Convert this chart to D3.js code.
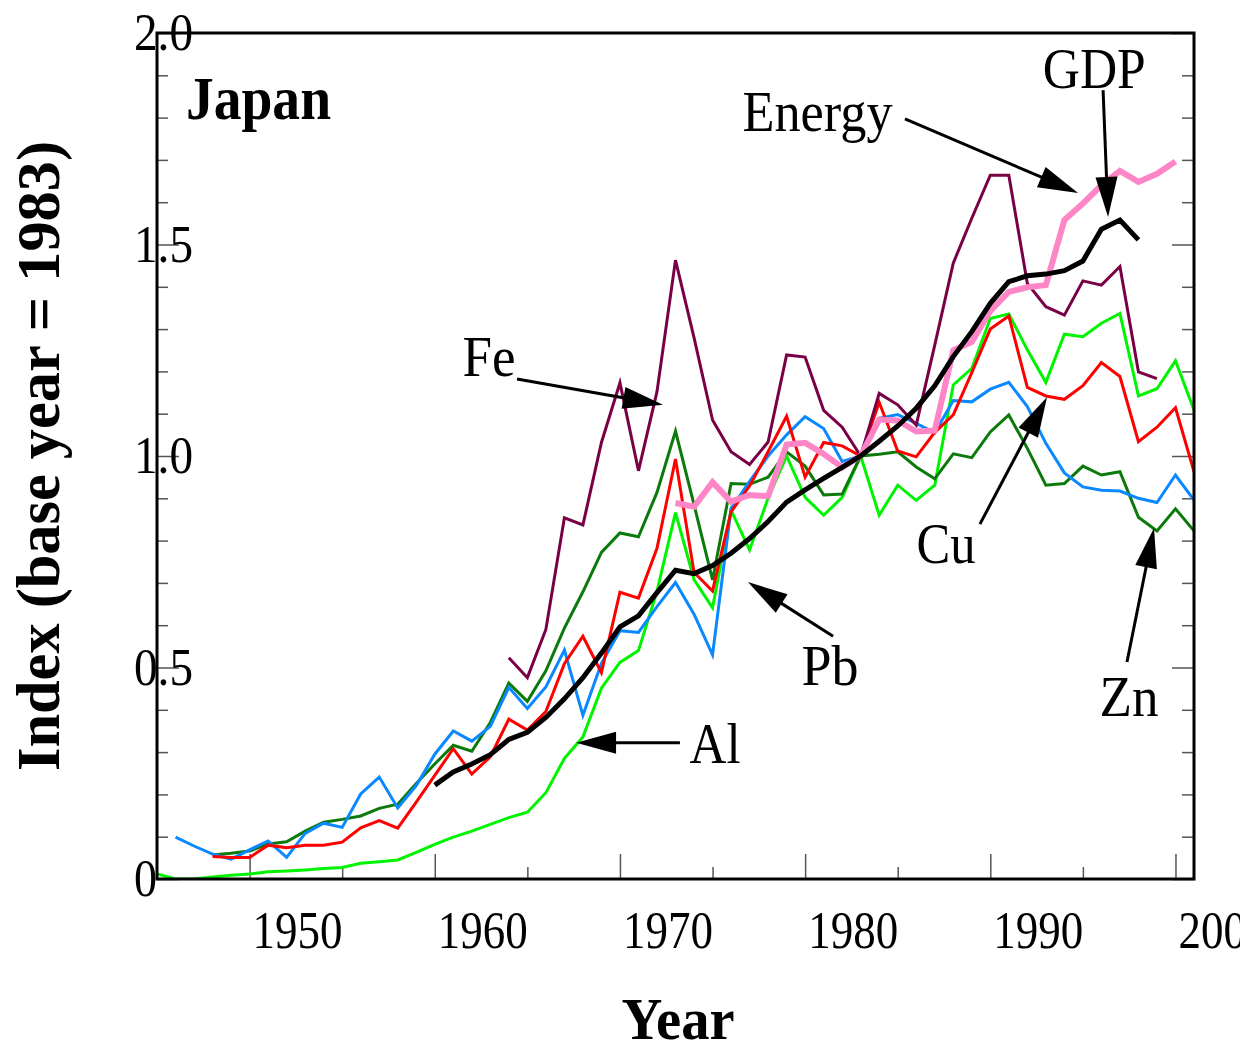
<!DOCTYPE html>
<html>
<head>
<meta charset="utf-8">
<script src="https://cdn.jsdelivr.net/npm/d3@7"></script>
<style>
  html, body { margin: 0; padding: 0; background: #fff; overflow: hidden; }
  text { font-family: "Liberation Serif", "Times New Roman", serif; fill: #000; }
</style>
</head>
<body>
<svg id="chart" width="1240" height="1044"></svg>
<script>
// ---- Data: consumption / output indices for Japan, base year 1983 = 1.0 ----
const xDomain = [1945, 2001];
const yDomain = [0, 2];

const xMajorTicks = [1950, 1960, 1970, 1980, 1990, 2000];
const xMinorTicks = [1955, 1965, 1975, 1985, 1995];
const xTickLabels = ["1950", "1960", "1970", "1980", "1990", "2000"];
const yTickValues = [0, 0.5, 1.0, 1.5, 2.0];
const yTickLabels = ["0", "0.5", "1.0", "1.5", "2.0"];

// Aluminium
const alStart = 1945;
const alValues = [0.012, 0.000, 0.000, 0.005, 0.009, 0.012, 0.017, 0.019, 0.021, 0.025,
  0.027, 0.037, 0.041, 0.045, 0.063, 0.082, 0.099, 0.113, 0.129, 0.145,
  0.158, 0.204, 0.285, 0.336, 0.451, 0.512, 0.540, 0.680, 0.866, 0.708,
  0.641, 0.872, 0.778, 0.900, 1.000, 0.902, 0.860, 0.902, 1.000, 0.860,
  0.931, 0.895, 0.931, 1.168, 1.207, 1.325, 1.336, 1.251, 1.174, 1.288,
  1.282, 1.314, 1.337, 1.142, 1.159, 1.225, 1.109];

// Zinc
const znStart = 1948;
const znValues = [0.057, 0.061, 0.066, 0.083, 0.088, 0.113, 0.134, 0.141, 0.149, 0.167,
  0.177, 0.226, 0.272, 0.316, 0.302, 0.370, 0.463, 0.420, 0.492, 0.593,
  0.679, 0.772, 0.818, 0.809, 0.914, 1.059, 0.885, 0.707, 0.935, 0.933,
  0.950, 1.010, 0.976, 0.908, 0.910, 1.000, 1.004, 1.010, 0.974, 0.946,
  1.005, 0.996, 1.057, 1.097, 1.018, 0.931, 0.935, 0.976, 0.955, 0.963,
  0.855, 0.823, 0.875, 0.823];

// Lead
const pbStart = 1946;
const pbValues = [0.099, 0.078, 0.059, 0.047, 0.069, 0.090, 0.051, 0.108, 0.132, 0.122,
  0.201, 0.241, 0.168, 0.221, 0.295, 0.350, 0.326, 0.361, 0.453, 0.403,
  0.454, 0.541, 0.387, 0.510, 0.587, 0.583, 0.644, 0.701, 0.626, 0.530,
  0.875, 0.940, 1.000, 1.050, 1.093, 1.065, 0.987, 1.000, 1.089, 1.098,
  1.077, 1.055, 1.131, 1.128, 1.158, 1.174, 1.117, 1.030, 0.960, 0.927,
  0.919, 0.917, 0.900, 0.890, 0.955, 0.896];

// Copper
const cuStart = 1948;
const cuValues = [0.053, 0.051, 0.051, 0.080, 0.074, 0.080, 0.080, 0.087, 0.121, 0.138,
  0.120, 0.182, 0.245, 0.308, 0.248, 0.289, 0.378, 0.352, 0.396, 0.509,
  0.574, 0.488, 0.678, 0.664, 0.782, 0.993, 0.725, 0.681, 0.868, 0.929,
  1.010, 1.094, 0.950, 1.032, 1.024, 1.000, 1.127, 1.012, 0.998, 1.056,
  1.097, 1.197, 1.300, 1.331, 1.162, 1.142, 1.134, 1.166, 1.221, 1.188,
  1.034, 1.068, 1.114, 0.963];

// Iron
const feStart = 1964;
const feValues = [0.523, 0.476, 0.590, 0.854, 0.837, 1.032, 1.173, 0.965, 1.152, 1.463,
  1.280, 1.085, 1.010, 0.980, 1.033, 1.239, 1.234, 1.108, 1.068, 1.000,
  1.148, 1.121, 1.073, 1.262, 1.456, 1.562, 1.664, 1.664, 1.408, 1.353,
  1.333, 1.414, 1.404, 1.448, 1.199, 1.183];

// Primary energy
const energyStart = 1973;
const energyValues = [0.889, 0.880, 0.938, 0.892, 0.908, 0.905, 1.027, 1.031, 1.005, 0.973,
  1.000, 1.086, 1.084, 1.058, 1.060, 1.250, 1.270, 1.343, 1.388, 1.399,
  1.404, 1.558, 1.597, 1.640, 1.674, 1.648, 1.667, 1.696];

// Gross domestic product
const gdpStart = 1960;
const gdpValues = [0.222, 0.253, 0.272, 0.294, 0.330, 0.347, 0.382, 0.426, 0.476, 0.534,
  0.596, 0.622, 0.677, 0.730, 0.722, 0.741, 0.770, 0.805, 0.845, 0.891,
  0.920, 0.947, 0.973, 1.000, 1.035, 1.071, 1.113, 1.166, 1.235, 1.294,
  1.361, 1.412, 1.426, 1.430, 1.438, 1.461, 1.536, 1.558, 1.511];

// Series labels with arrows: [text, label year, label value, arrow from (year, value), arrow tip (year, value)]
const annotationNames = ["Energy", "GDP", "Fe", "Cu", "Pb", "Al", "Zn"];
const annotationLabelAt = [[1976.62, 1.768], [1992.83, 1.870], [1961.50, 1.189], [1986.02, 0.747],
  [1979.81, 0.459], [1973.76, 0.274], [1995.90, 0.385]];
const annotationArrowFrom = [[1985.39, 1.797], [1996.09, 1.865], [1964.44, 1.182], [1989.44, 0.839],
  [1981.51, 0.574], [1973.24, 0.322], [1997.38, 0.513]];
const annotationArrowTip = [[1994.74, 1.622], [1996.36, 1.565], [1972.32, 1.121], [1993.06, 1.139],
  [1976.91, 0.702], [1967.63, 0.322], [1998.84, 0.830]];
const annotationWidths = [150, 103, 53, 59, 57, 51, 59];

// ---- Drawing ----
const svg = d3.select("#chart");
const plot = { left: 157, right: 1194, top: 33, bottom: 879 };

const x = d3.scaleLinear().domain(xDomain).range([plot.left, plot.right]);
const y = d3.scaleLinear().domain(yDomain).range([plot.bottom, plot.top]);

svg.append("defs").append("clipPath").attr("id", "plot-clip")
  .append("rect")
  .attr("x", plot.left).attr("y", plot.top)
  .attr("width", plot.right - plot.left).attr("height", plot.bottom - plot.top);

function toPoints(start, values) {
  return values.map((v, i) => ({ year: start + i, value: v }));
}

const series = [
  { name: "Al", points: toPoints(alStart, alValues), color: "#00f400", width: 3 },
  { name: "Zn", points: toPoints(znStart, znValues), color: "#0b7a0b", width: 3 },
  { name: "Pb", points: toPoints(pbStart, pbValues), color: "#0a88ff", width: 3 },
  { name: "Cu", points: toPoints(cuStart, cuValues), color: "#ff0000", width: 3 },
  { name: "Fe", points: toPoints(feStart, feValues), color: "#7a0046", width: 3 },
  { name: "Energy", points: toPoints(energyStart, energyValues), color: "#ff86c6", width: 6 },
  { name: "GDP", points: toPoints(gdpStart, gdpValues), color: "#000000", width: 5 }
];

// tick marks (drawn inside the frame)
const tickColor = "#555";
function styleAxis(g) {
  g.select(".domain").remove();
  g.selectAll(".tick line").attr("stroke", tickColor).attr("stroke-width", 1.5);
  g.selectAll(".tick text").remove();
}

svg.append("g").attr("transform", `translate(0,${plot.bottom})`)
  .call(d3.axisBottom(x).tickValues(xMajorTicks).tickSize(-25)).call(styleAxis);
svg.append("g").attr("transform", `translate(0,${plot.bottom})`)
  .call(d3.axisBottom(x).tickValues(xMinorTicks).tickSize(-12)).call(styleAxis);

const yMinor = d3.range(1, 20).map(i => i / 10).filter(v => Math.abs(v * 2 - Math.round(v * 2)) > 1e-6);
svg.append("g").attr("transform", `translate(${plot.left},0)`)
  .call(d3.axisRight(y).tickValues(yTickValues).tickSize(22)).call(styleAxis);
svg.append("g").attr("transform", `translate(${plot.left},0)`)
  .call(d3.axisRight(y).tickValues(yMinor).tickSize(11)).call(styleAxis);
svg.append("g").attr("transform", `translate(${plot.right},0)`)
  .call(d3.axisLeft(y).tickValues(yTickValues).tickSize(22)).call(styleAxis);
svg.append("g").attr("transform", `translate(${plot.right},0)`)
  .call(d3.axisLeft(y).tickValues(yMinor).tickSize(12)).call(styleAxis);

// data lines
const line = d3.line().x(d => x(d.year)).y(d => y(d.value));
const lines = svg.append("g").attr("clip-path", "url(#plot-clip)");
lines.selectAll("path")
  .data(series)
  .join("path")
  .attr("d", d => line(d.points))
  .attr("fill", "none")
  .attr("stroke", d => d.color)
  .attr("stroke-width", d => d.width)
  .attr("stroke-linejoin", "miter")
  .attr("stroke-miterlimit", 4);

// frame
svg.append("rect")
  .attr("x", plot.left).attr("y", plot.top)
  .attr("width", plot.right - plot.left).attr("height", plot.bottom - plot.top)
  .attr("fill", "none").attr("stroke", "#000").attr("stroke-width", 3);

// tick labels
function fitText(sel, len) {
  return sel.attr("textLength", len).attr("lengthAdjust", "spacingAndGlyphs");
}
xMajorTicks.forEach((yr, i) => {
  fitText(svg.append("text")
    .attr("x", x(yr) + 48).attr("y", 948)
    .attr("text-anchor", "middle")
    .attr("font-size", 53)
    .text(xTickLabels[i]), 90);
});
yTickValues.forEach((v, i) => {
  const t = yTickLabels[i];
  fitText(svg.append("text")
    .attr("x", 134).attr("y", y(v) + 17)
    .attr("font-size", 53)
    .text(t), t.length === 1 ? 23 : 59);
});

// titles
fitText(svg.append("text")
  .attr("x", 186).attr("y", 119)
  .attr("font-size", 62).attr("font-weight", "bold")
  .text("Japan"), 145);
fitText(svg.append("text")
  .attr("x", 678).attr("y", 1039)
  .attr("text-anchor", "middle")
  .attr("font-size", 60).attr("font-weight", "bold")
  .text("Year"), 113);
fitText(svg.append("text")
  .attr("transform", "translate(59,456) rotate(-90)")
  .attr("text-anchor", "middle")
  .attr("font-size", 62).attr("font-weight", "bold")
  .text("Index (base year = 1983)"), 630);

// series annotations with arrows
const headLen = 40, headHalf = 11;
annotationNames.forEach((name, i) => {
  const [lx, ly] = annotationLabelAt[i];
  fitText(svg.append("text")
    .attr("x", x(lx)).attr("y", y(ly))
    .attr("font-size", 58)
    .text(name), annotationWidths[i]);

  const [fx, fy] = annotationArrowFrom[i];
  const [tx, ty] = annotationArrowTip[i];
  const x0 = x(fx), y0 = y(fy), x1 = x(tx), y1 = y(ty);
  const dx = x1 - x0, dy = y1 - y0, len = Math.hypot(dx, dy);
  const ux = dx / len, uy = dy / len;
  const bx = x1 - ux * headLen, by = y1 - uy * headLen;
  svg.append("line")
    .attr("x1", x0).attr("y1", y0).attr("x2", bx + ux * 4).attr("y2", by + uy * 4)
    .attr("stroke", "#000").attr("stroke-width", 3);
  svg.append("path")
    .attr("d", `M${x1},${y1}L${bx - uy * headHalf},${by + ux * headHalf}L${bx + uy * headHalf},${by - ux * headHalf}Z`)
    .attr("fill", "#000");
});
</script>
</body>
</html>
